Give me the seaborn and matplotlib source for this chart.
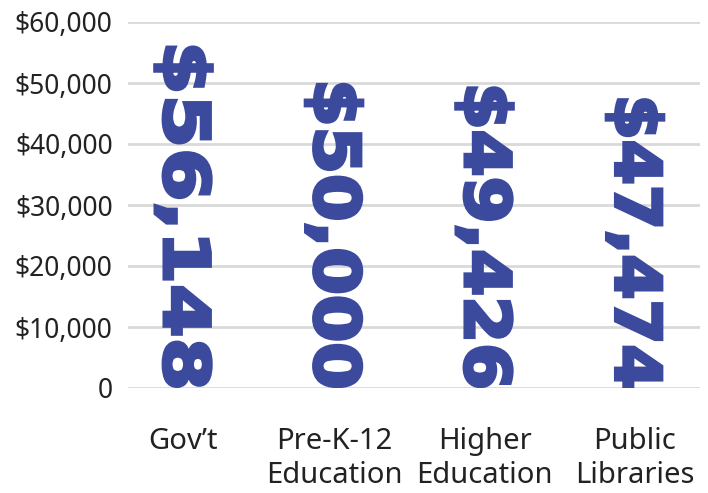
import matplotlib
matplotlib.use('Agg')
import matplotlib.pyplot as plt
import seaborn as sns
from matplotlib.textpath import TextPath
from matplotlib.patches import PathPatch
from matplotlib.font_manager import FontProperties
from matplotlib.transforms import Affine2D
from matplotlib.ticker import FuncFormatter

categories = ['Gov’t', 'Pre-K-12\nEducation', 'Higher\nEducation', 'Public\nLibraries']
salaries = [56148, 50000, 49426, 47474]
value_labels = ['$56,148', '$50,000', '$49,426', '$47,474']
y_ticks = [0, 10000, 20000, 30000, 40000, 50000, 60000]

blue = '#3c4a9d'

sns.set_style('white')
plt.rcParams['font.family'] = ['Noto Sans', 'DejaVu Sans']

fig = plt.figure(figsize=(7.08, 4.93), dpi=100)
ax = fig.add_axes([128 / 708, 105 / 493, 572 / 708, 366 / 493])
sns.barplot(x=categories, y=salaries, color=blue, width=0.38, ax=ax)

# the bars are drawn as the value text itself, stretched to fill each bar
glyph_font = FontProperties(family='DejaVu Sans', weight='bold')
for bar, label in zip(ax.patches, value_labels):
    x0, w, h = bar.get_x(), bar.get_width(), bar.get_height()
    bar.set_visible(False)
    path = TextPath((0, 0), label, prop=glyph_font)
    ext = path.get_extents()
    t = (Affine2D().translate(-ext.x0, -ext.y0)
         .scale(1 / ext.width, 1 / ext.height)
         .rotate_deg(-90)
         .scale(w, h * 0.99)
         .translate(x0, h * 0.995))
    ax.add_patch(PathPatch(t.transform_path(path), facecolor=blue,
                           edgecolor=blue, lw=2.5, transform=ax.transData))

ax.set_xlim(-0.369, 3.432)
ax.set_ylim(0, 60000)
ax.set_yticks(y_ticks)
ax.yaxis.set_major_formatter(FuncFormatter(lambda v, p: '0' if v == 0 else f'${v:,.0f}'))
ax.yaxis.grid(True, color='#d9d9d9', lw=2)
ax.set_axisbelow(True)
sns.despine(ax=ax, left=True, bottom=True)
ax.tick_params(axis='y', length=0, pad=11, labelsize=19, labelcolor='#222222')
ax.tick_params(axis='x', length=0, pad=28, labelsize=21, labelcolor='#222222')
for lbl in ax.get_xticklabels():
    lbl.set_linespacing(1.25)
ax.set_xlabel('')
ax.set_ylabel('')

fig.savefig('out.png', dpi=100)
